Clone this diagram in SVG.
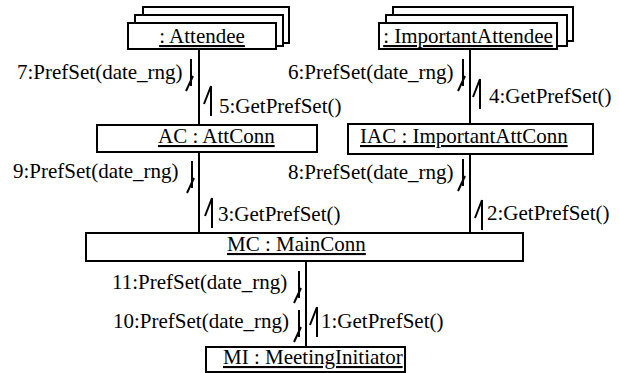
<svg xmlns="http://www.w3.org/2000/svg" width="619" height="373" viewBox="0 0 619 373">
<style>
.box{fill:#fff;stroke:#000;stroke-width:2}
.ln{fill:none;stroke:#000;stroke-width:2}
.ar{fill:none;stroke:#000;stroke-width:2}
.t{font-family:'Liberation Serif','DejaVu Serif',serif;font-size:21px;fill:#000}
.u{text-decoration:underline}
</style>
<defs>
<path id="dn" class="ar" d="M0,0 V27 M2,17 L-5,32"/>
<path id="up" class="ar" d="M0,0 V30 M0,0 L-7,18"/>
</defs>
<rect width="619" height="373" fill="#fff"/>
<g id="connectors">
<line class="ln" x1="199" y1="49" x2="199" y2="125"/>
<line class="ln" x1="470" y1="49" x2="470" y2="124"/>
<line class="ln" x1="199" y1="152" x2="199" y2="233"/>
<line class="ln" x1="470" y1="154" x2="470" y2="233"/>
<line class="ln" x1="306" y1="261" x2="306" y2="347"/>
<use href="#dn" x="191" y="59"/>
<use href="#up" x="211" y="86"/>
<use href="#dn" x="192" y="161"/>
<use href="#up" x="212" y="198"/>
<use href="#dn" x="463" y="59"/>
<use href="#up" x="480" y="79"/>
<use href="#dn" x="463" y="159"/>
<use href="#up" x="482" y="200"/>
<use href="#dn" x="299" y="271"/>
<use href="#dn" x="299" y="310"/>
<use href="#up" x="317" y="307"/>
<g class="t">
<text x="17" y="79">7:PrefSet(date_rng)</text>
<text x="219" y="113">5:GetPrefSet()</text>
<text x="13" y="178">9:PrefSet(date_rng)</text>
<text x="218" y="221">3:GetPrefSet()</text>
<text x="288" y="79">6:PrefSet(date_rng)</text>
<text x="489" y="103">4:GetPrefSet()</text>
<text x="288" y="179">8:PrefSet(date_rng)</text>
<text x="487" y="220">2:GetPrefSet()</text>
<text x="112" y="289">11:PrefSet(date_rng)</text>
<text x="113" y="328">10:PrefSet(date_rng)</text>
<text x="321" y="328">1:GetPrefSet()</text>
</g>
</g>
<g id="attendee">
<rect class="box" x="143" y="7" width="146" height="36"/>
<rect class="box" x="135" y="15" width="148" height="31"/>
<rect class="box" x="128" y="23" width="148" height="26"/>
<text class="t u" x="202" y="43" text-anchor="middle">: Attendee</text>
</g>
<g id="importantAttendee">
<rect class="box" x="393" y="7" width="180" height="34"/>
<rect class="box" x="386" y="15" width="181" height="31"/>
<rect class="box" x="379" y="23" width="178" height="26"/>
<text class="t u" x="468" y="43" text-anchor="middle">: ImportantAttendee</text>
</g>
<g id="ac">
<rect class="box" x="97" y="125" width="220" height="27"/>
<text class="t u" x="158" y="143">AC : AttConn</text>
</g>
<g id="iac">
<rect class="box" x="348" y="124" width="245" height="30"/>
<text class="t u" x="360" y="143">IAC : ImportantAttConn</text>
</g>
<g id="mc">
<rect class="box" x="86" y="233" width="437" height="28"/>
<text class="t u" x="227" y="251">MC : MainConn</text>
</g>
<g id="mi">
<rect class="box" x="206" y="347" width="199" height="25"/>
<text class="t u" x="223" y="364">MI : MeetingInitiator</text>
</g>
</svg>
